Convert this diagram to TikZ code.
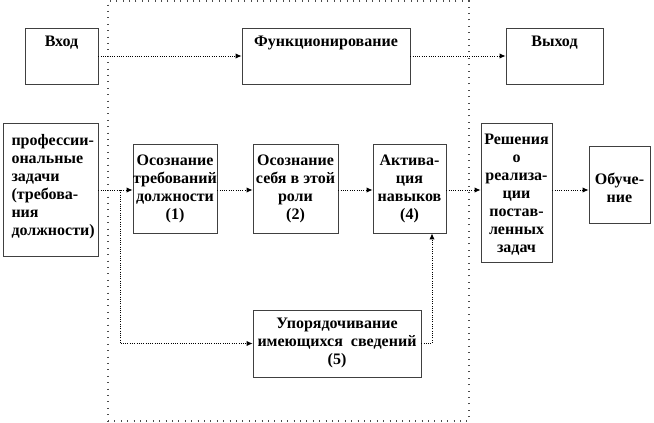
\documentclass[tikz,border=0pt]{standalone}
\usepackage{fontspec}
\setmainfont{Liberation Serif}
\usetikzlibrary{fit,arrows.meta}
\begin{document}
\begin{tikzpicture}[x=0.75pt,y=-0.75pt,
  box/.style={draw=black!75, line width=0.6pt, inner sep=0pt},
  lbl/.style={font=\bfseries\fontsize{12}{13.5}\selectfont, align=center, inner sep=0pt, anchor=north},
  conn/.style={densely dotted, line width=0.7pt, -{Latex[length=4.5pt,width=4pt]}},
  frm/.style={draw=black!70, loosely dotted, line width=0.8pt, inner sep=0pt}
]
\useasboundingbox (0,0) rectangle (654,422);
\node[frm, fit={(108,1)(469,421)}] (frame) {};
% boxes
\node[box, fit={(25,28)(98,84)}] (in) {};
\node[box, fit={(242,28)(410,84)}] (fun) {};
\node[box, fit={(506,28)(603,84)}] (out) {};
\node[box, fit={(3,123)(98,256)}] (pz) {};
\node[box, fit={(133,144)(217,233)}] (s1) {};
\node[box, fit={(253,144)(338,233)}] (s2) {};
\node[box, fit={(373,144)(446,233)}] (s4) {};
\node[box, fit={(481,123)(552,262)}] (rs) {};
\node[box, fit={(589,146)(650,223)}] (ob) {};
\node[box, fit={(253,310)(421,377)}] (s5) {};
% labels
\node[lbl] (tin) at ([yshift=-6pt]in.north) {Вход};
\node[lbl] (tfun) at ([yshift=-6pt]fun.north) {Функционирование};
\node[lbl] (tout) at ([yshift=-6pt]out.north) {Выход};
\node[lbl, anchor=north west, align=left] (tpz) at ([xshift=6.5pt,yshift=-9pt]pz.north west)
  {профессии-\\ональные\\задачи\\(требова-\\ния\\должности)};
\node[lbl] (ts1) at ([yshift=-8pt]s1.north) {Осознание\\требований\\должности\\(1)};
\node[lbl] (ts2) at ([yshift=-8pt]s2.north) {Осознание\\себя в этой\\роли\\(2)};
\node[lbl] (ts4) at ([yshift=-8pt]s4.north) {Актива-\\ция\\навыков\\(4)};
\node[lbl] (trs) at ([yshift=-8pt]rs.north)
  {Решения\\о\\реализа-\\ции\\постав-\\ленных\\задач};
\node[lbl] (tob) at ([yshift=-20.5pt]ob.north) {Обуче-\\ние};
\node[lbl] (ts5) at ([yshift=-6pt]s5.north) {Упорядочивание\\имеющихся\ \ сведений\\(5)};
% connectors
\coordinate (row) at (0,190);
\coordinate (br) at (120,190);
\coordinate (up) at (432,0);
\draw[conn] (in) -- (fun);
\draw[conn] (fun) -- (out);
\draw[conn] (pz.east |- row) -- (s1.west |- row);
\draw[conn] (s1.east |- row) -- (s2.west |- row);
\draw[conn] (s2.east |- row) -- (s4.west |- row);
\draw[conn] (s4.east |- row) -- (rs.west |- row);
\draw[conn] (rs.east |- row) -- (ob.west |- row);
\draw[conn] (br) |- (s5.west);
\draw[conn] (s5.east) -| (up |- s4.south);
\end{tikzpicture}
\end{document}
